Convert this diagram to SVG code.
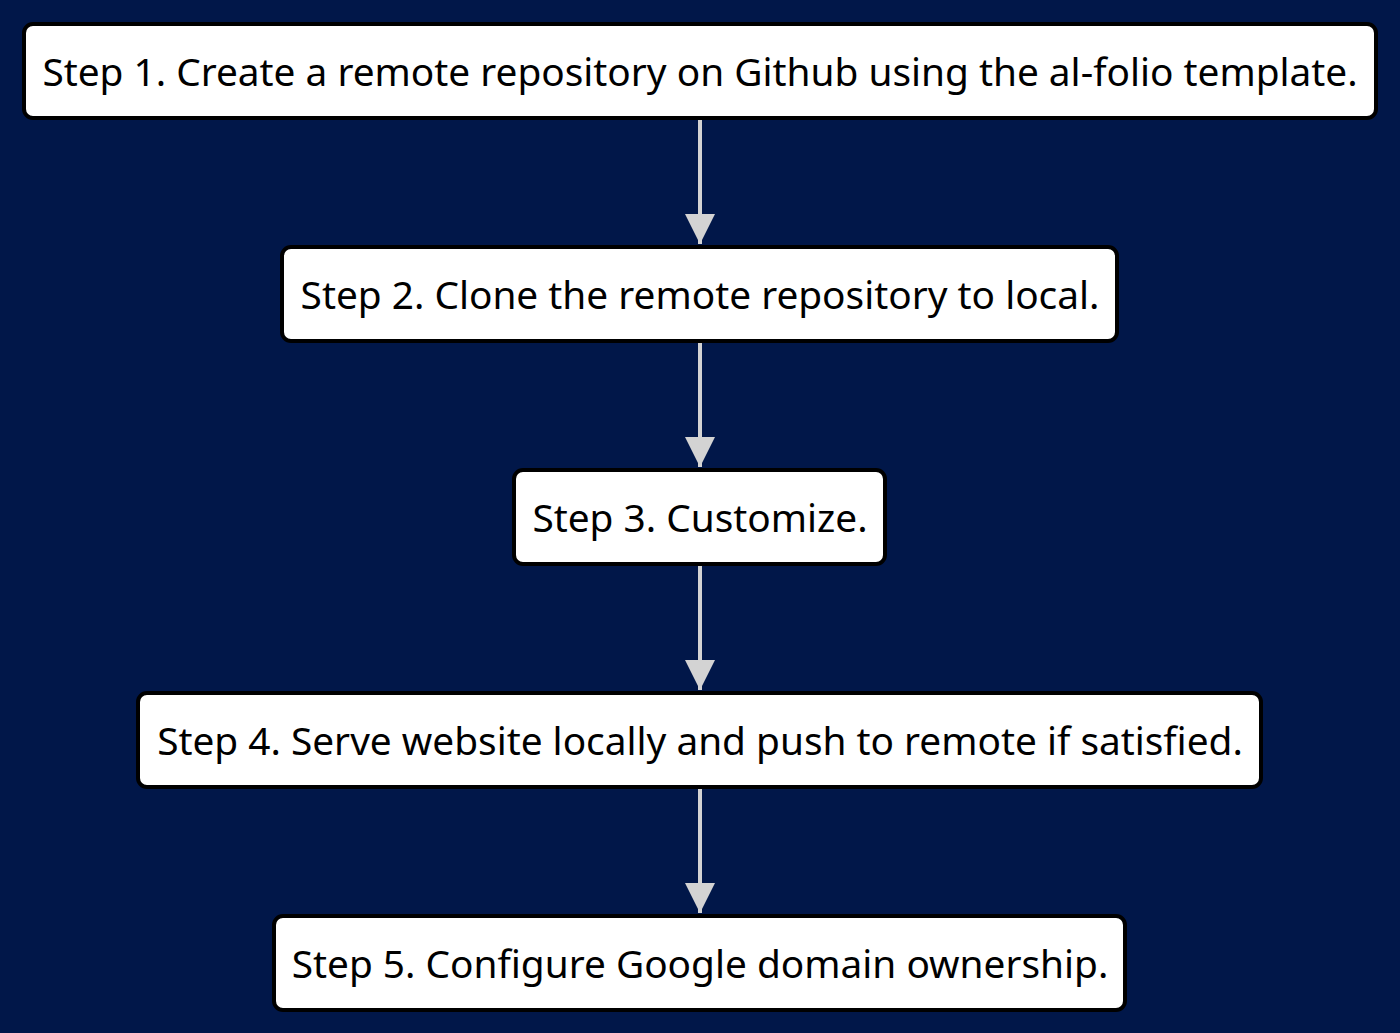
<svg xmlns="http://www.w3.org/2000/svg" width="1400" height="1033" viewBox="0 0 1400 1033">
<defs>
<style>
.box{fill:#ffffff;stroke:#000000;stroke-width:4}
.lbl{font-family:"Noto Sans",sans-serif;font-size:38.8px;fill:#000000;text-anchor:middle;dominant-baseline:central}
.edge{stroke:#d3d3d3;stroke-width:4;fill:none}
</style>
<marker id="arr" viewBox="0 0 10 10" refX="10" refY="5" markerUnits="userSpaceOnUse" markerWidth="30" markerHeight="30" orient="auto">
<path d="M0,0 L10,5 L0,10 z" fill="#d3d3d3"/>
</marker>
</defs>
<rect width="1400" height="1033" fill="#011749"/>
<g id="edges">
<line class="edge" x1="700" y1="120" x2="700" y2="244" marker-end="url(#arr)"/>
<line class="edge" x1="700" y1="343" x2="700" y2="467" marker-end="url(#arr)"/>
<line class="edge" x1="700" y1="566" x2="700" y2="690" marker-end="url(#arr)"/>
<line class="edge" x1="700" y1="789" x2="700" y2="913" marker-end="url(#arr)"/>
</g>
<g id="step1"><rect class="box" x="24" y="24" width="1352" height="94" rx="9"/><text class="lbl" x="700" y="71">Step 1. Create a remote repository on Github using the al-folio template.</text></g>
<g id="step2"><rect class="box" x="282" y="247" width="835" height="94" rx="9"/><text class="lbl" x="700" y="294">Step 2. Clone the remote repository to local.</text></g>
<g id="step3"><rect class="box" x="514" y="470" width="371" height="94" rx="9"/><text class="lbl" x="700" y="517">Step 3. Customize.</text></g>
<g id="step4"><rect class="box" x="138" y="693" width="1123" height="94" rx="9"/><text class="lbl" x="700" y="740">Step 4. Serve website locally and push to remote if satisfied.</text></g>
<g id="step5"><rect class="box" x="274" y="916" width="851" height="94" rx="9"/><text class="lbl" x="700" y="963">Step 5. Configure Google domain ownership.</text></g>
</svg>
